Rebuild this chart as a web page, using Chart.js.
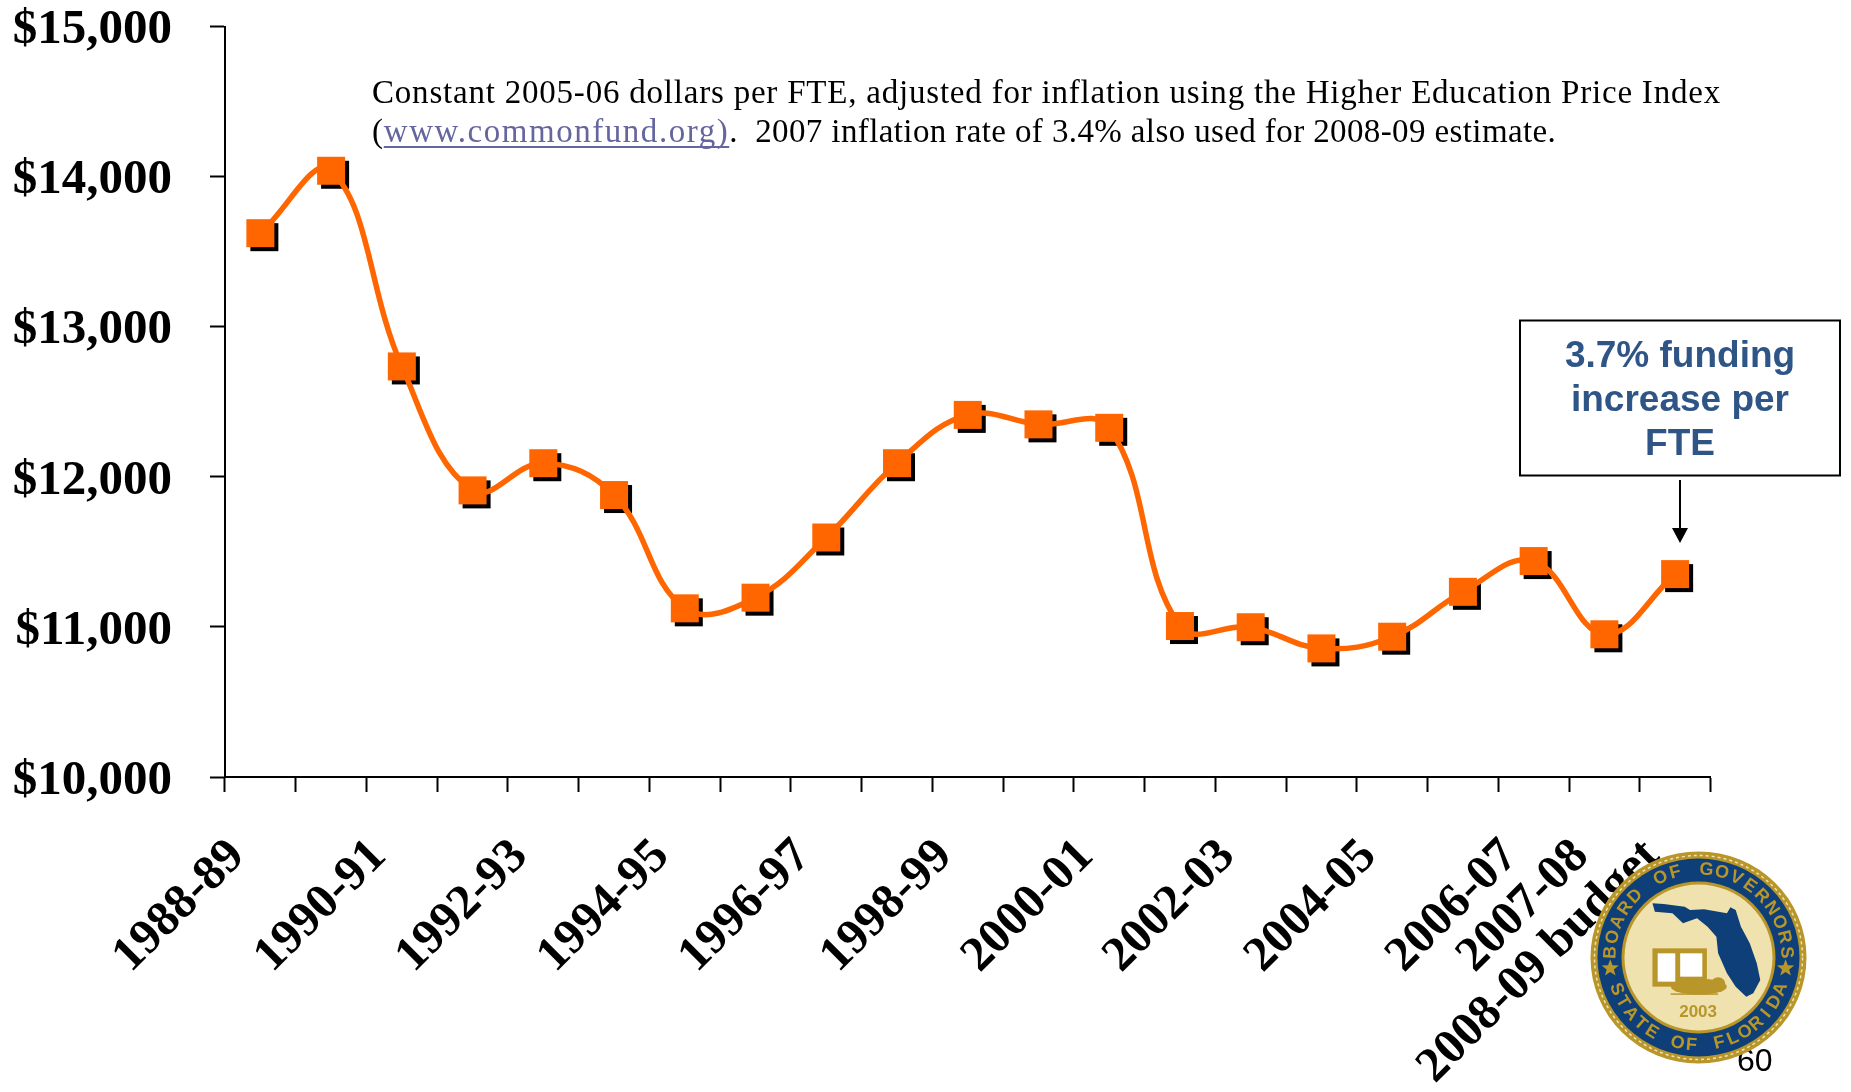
<!DOCTYPE html>
<html><head><meta charset="utf-8">
<style>html,body{margin:0;padding:0;background:#fff}#w{position:relative;width:1851px;height:1092px}</style>
<script src="https://cdn.jsdelivr.net/npm/chart.js@4"></script>
</head><body><div id="w"><canvas id="c" width="1851" height="1092"></canvas></div>
<script>
const categories = ['1988-89','1989-90','1990-91','1991-92','1992-93','1993-94','1994-95','1995-96','1996-97','1997-98','1998-99','1999-00','2000-01','2001-02','2002-03','2003-04','2004-05','2005-06','2006-07','2007-08','2008-09 budget'];
const shownLabels = ['1988-89','1990-91','1992-93','1994-95','1996-97','1998-99','2000-01','2002-03','2004-05','2006-07','2007-08','2008-09 budget'];
const fundingPerFte = [13624,14040,12736,11910,12091,11879,11124,11195,11596,12091,12413,12350,12327,11006,10998,10857,10935,11234,11439,10951,11352];
const SERIF = '"Liberation Serif", serif', SANS = '"Liberation Sans", Arial, sans-serif';

const shadowPlugin = {
  id:'shadow',
  beforeDatasetsDraw(chart){
    const ctx = chart.ctx, pts = chart.getDatasetMeta(0).data;
    ctx.save(); ctx.fillStyle='#000';
    pts.forEach(p=>ctx.fillRect(p.x-14+4,p.y-14+4,28,28));
    ctx.restore();
  }
};

function drawNote(ctx){
  ctx.save();
  ctx.textBaseline='alphabetic'; ctx.textAlign='left';
  ctx.font='33px '+SERIF; ctx.fillStyle='#000';
  ctx.letterSpacing='0.79px';
  ctx.fillText('Constant 2005-06 dollars per FTE, adjusted for inflation using the Higher Education Price Index',372,103);
  const y2=142; let x=372;
  ctx.fillText('(',x,y2); x+=ctx.measureText('(').width;
  const link='www.commonfund.org)';
  ctx.letterSpacing='1.54px';
  ctx.fillStyle='#66669F'; ctx.fillText(link,x,y2);
  const lw=ctx.measureText(link).width;
  ctx.fillRect(x,y2+4,lw,2);
  x+=lw; ctx.fillStyle='#000';
  ctx.letterSpacing='0.39px';
  ctx.fillText('.  2007 inflation rate of 3.4% also used for 2008-09 estimate.',x,y2);
  ctx.restore();
}
function drawCallout(ctx){
  ctx.save();
  ctx.strokeStyle='#000'; ctx.lineWidth=2;
  ctx.strokeRect(1520,320.5,320,155);
  ctx.fillStyle='#2F5587'; ctx.font='bold 37px '+SANS; ctx.textAlign='center'; ctx.textBaseline='alphabetic';
  ctx.fillText('3.7% funding',1680,367);
  ctx.fillText('increase per',1680,411);
  ctx.fillText('FTE',1680,455);
  ctx.strokeStyle='#000'; ctx.lineWidth=2;
  ctx.beginPath(); ctx.moveTo(1680,480); ctx.lineTo(1680,530); ctx.stroke();
  ctx.fillStyle='#000'; ctx.beginPath(); ctx.moveTo(1672,528); ctx.lineTo(1688,528); ctx.lineTo(1680,543); ctx.closePath(); ctx.fill();
  ctx.restore();
}
function star(ctx,cx,cy,r){
  ctx.beginPath();
  for(let i=0;i<10;i++){const a=-Math.PI/2+i*Math.PI/5,q=i%2?r*0.42:r;ctx.lineTo(cx+q*Math.cos(a),cy+q*Math.sin(a));}
  ctx.closePath();ctx.fill();
}
function arcText(ctx,txt,cx,cy,r,midAngle,step,outward){
  const n=txt.length;
  [...txt].forEach((ch,i)=>{
    const off=(i-(n-1)/2)*step;
    const a=outward? midAngle+off : midAngle-off;
    ctx.save();
    ctx.translate(cx+r*Math.cos(a),cy+r*Math.sin(a));
    ctx.rotate(outward? a+Math.PI/2 : a-Math.PI/2);
    ctx.fillText(ch,0,0);
    ctx.restore();
  });
}
function drawSeal(ctx){
  const cx=1698.5,cy=957.5,NAVY='#0F3F78',GOLD='#B8962A',CREAM='#EFE2AE';
  const zx=v=>1300+v/2.846, zy=v=>700+v/3;
  ctx.save();
  ctx.fillStyle='#000'; ctx.font='32px '+SANS; ctx.textAlign='left'; ctx.textBaseline='alphabetic';
  ctx.fillText('60',1737,1071);
  ctx.fillStyle=GOLD; ctx.beginPath(); ctx.ellipse(cx,cy,108,106,0,0,7); ctx.fill();
  ctx.strokeStyle='#EFE2AE'; ctx.lineWidth=1.5; ctx.setLineDash([3,3]);
  ctx.beginPath(); ctx.ellipse(cx,cy,104,102,0,0,7); ctx.stroke(); ctx.setLineDash([]);
  ctx.fillStyle=NAVY; ctx.beginPath(); ctx.ellipse(cx,cy,101,99,0,0,7); ctx.fill();
  ctx.fillStyle=GOLD; ctx.beginPath(); ctx.ellipse(cx,cy,77,76,0,0,7); ctx.fill();
  ctx.fillStyle=CREAM; ctx.beginPath(); ctx.ellipse(cx,cy,74,73,0,0,7); ctx.fill();
  ctx.fillStyle=GOLD; ctx.font='bold 18px '+SANS; ctx.textAlign='center'; ctx.textBaseline='middle';
  arcText(ctx,'BOARD OF GOVERNORS',cx,cy,88,-Math.PI/2,0.178,true);
  arcText(ctx,'STATE OF FLORIDA',cx,cy,88,Math.PI/2,0.16,false);
  star(ctx,zx(883),zy(805),9); star(ctx,zx(1382),zy(805),9);
  const fl=[[1003,610],[1035,612],[1095,620],[1110,630],[1150,628],[1215,640],[1225,622],[1240,630],[1255,680],[1280,730],[1300,790],[1310,840],[1290,880],[1270,890],[1240,860],[1215,820],[1190,760],[1185,710],[1160,680],[1130,655],[1090,670],[1060,640],[1010,635]];
  ctx.fillStyle=NAVY; ctx.beginPath(); fl.forEach(p=>ctx.lineTo(zx(p[0]),zy(p[1]))); ctx.closePath(); ctx.fill();
  ctx.fillStyle=GOLD; ctx.fillRect(zx(1003),zy(745),zx(1158)-zx(1003),zy(860)-zy(745));
  ctx.fillStyle='#fff'; ctx.fillRect(zx(1018),zy(760),zx(1068)-zx(1018),zy(845)-zy(760)); ctx.fillRect(zx(1082),zy(760),zx(1145)-zx(1082),zy(830)-zy(760));
  ctx.fillStyle=GOLD; ctx.beginPath(); ctx.ellipse(zx(1135),zy(860),28,8,0,0,7); ctx.fill();
  ctx.beginPath(); ctx.ellipse(zx(1190),zy(850),7,6,0,0,7); ctx.fill();
  ctx.fillRect(zx(1055),zy(880),zx(1190)-zx(1055),1.5);
  ctx.font='bold 17px '+SANS; ctx.fillText('2003',zx(1133),zy(938));
  ctx.restore();
}
const decoPlugin = {
  id:'deco',
  afterDraw(chart){ const c=chart.ctx; drawNote(c); drawCallout(c); drawSeal(c); }
};

new Chart(document.getElementById('c'),{
  type:'line',
  data:{labels:categories,datasets:[{
    data:fundingPerFte,borderColor:'#FF6600',borderWidth:5.5,tension:0.4,clip:false,
    pointStyle:'rect',pointRadius:19.8,pointHoverRadius:19.8,pointBackgroundColor:'#FF6600',pointBorderWidth:0
  }]},
  options:{
    responsive:false,animation:false,
    layout:{padding:{top:26.7,right:140.5,left:0,bottom:0}},
    plugins:{legend:{display:false},title:{display:false},tooltip:{enabled:false}},
    scales:{
      x:{
        offset:true,
        afterFit(s){s.height=315;s.paddingLeft=0;s.paddingRight=0;},
        border:{color:'#000',width:2},
        grid:{offset:true,drawOnChartArea:false,tickLength:15,tickColor:'#000',tickWidth:2},
        ticks:{autoSkip:false,minRotation:45,maxRotation:45,padding:36,labelOffset:-23,color:'#000',
          font:{family:SERIF,size:49,weight:'bold'},
          callback(v,i){const l=categories[i];return shownLabels.includes(l)?l:'';}}
      },
      y:{
        min:10000,max:15000,
        afterFit(s){s.width=225;s.paddingTop=0;s.paddingBottom=0;},
        border:{color:'#000',width:2},
        grid:{drawOnChartArea:false,tickLength:15,tickColor:'#000',tickWidth:2},
        ticks:{stepSize:1000,padding:38,labelOffset:4,color:'#000',
          font:{family:SERIF,size:49,weight:'bold'},
          callback(v){return '$'+Number(v).toLocaleString('en-US');}}
      }
    }
  },
  plugins:[shadowPlugin,decoPlugin]
});
</script></body></html>
